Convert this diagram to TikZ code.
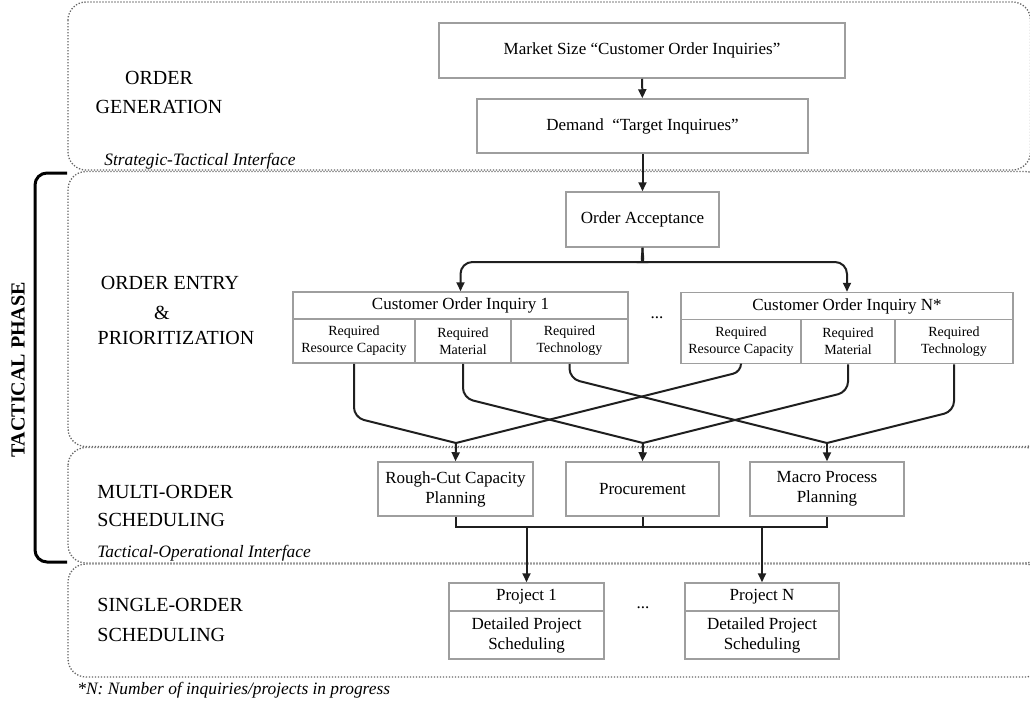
\documentclass[tikz,border=0pt]{standalone}
\usepackage{fontspec}
\setmainfont{Liberation Serif}
\usetikzlibrary{arrows.meta}
\tikzset{
  band/.style={draw=black!60, line width=0.65pt, dash pattern=on 0.65pt off 0.85pt, rounded corners=9pt},
  box/.style={draw=black!38, line width=0.75pt, inner sep=0pt, align=center, font=\fontsize{8.5}{10}\selectfont},
  cell/.style={box, font=\fontsize{7}{8.6}\selectfont},
  conn/.style={draw=black!88, line width=1pt},
  arr/.style={conn, -{Triangle[length=4.5pt,width=4pt]}},
  lab/.style={font=\fontsize{10}{12}\selectfont, inner sep=0pt},
  iface/.style={font=\fontsize{8.7}{10.5}\selectfont\itshape, inner sep=0pt, anchor=west},
  dots/.style={font=\fontsize{8.5}{10}\selectfont, inner sep=0pt},
}
\begin{document}
\begin{tikzpicture}[x=0.5pt,y=-0.5pt]
\useasboundingbox (0,0) rectangle (1030,702);

% bands
\draw[band] (68,2) rectangle (1030.5,170);
\draw[band] (68,171.5) rectangle (1043,446.5);
\draw[band] (68,447.5) rectangle (1043,563);
\draw[band] (68,564) rectangle (1043,677);

% tactical phase bracket
\draw[line width=1.5pt, rounded corners=6pt] (67,173) -- (35,173) -- (35,562) -- (67,562);
\node[lab, font=\fontsize{10}{12}\selectfont\bfseries, rotate=90] (tp) at (18,370) {TACTICAL PHASE};

% left labels
\node[lab] (og1) at (159,78) {ORDER};
\node[lab] (og2) at (159,107) {GENERATION};
\node[lab] (oe1) at (170,283) {ORDER ENTRY};
\node[lab] (oe2) at (162,313) {\&};
\node[lab] (oe3) at (176,338) {PRIORITIZATION};
\node[lab, anchor=west] (mo1) at (97,492) {MULTI-ORDER};
\node[lab, anchor=west] (mo2) at (97,520) {SCHEDULING};
\node[lab, anchor=west] (so1) at (97,605) {SINGLE-ORDER};
\node[lab, anchor=west] (so2) at (97,635) {SCHEDULING};
\node[iface] (sti) at (104,161) {Strategic-Tactical Interface};
\node[iface] (toi) at (97,553) {Tactical-Operational Interface};
\node[iface] (fn) at (77,690) {*N: Number of inquiries/projects in progress};

% top boxes
\node[box, minimum width=203pt, minimum height=27.5pt] (ms) at (642,50.5) {Market Size “Customer Order Inquiries”};
\node[box, minimum width=165.5pt, minimum height=27pt] (dm) at (642.5,126) {Demand~ “Target Inquirues”};
\node[box, minimum width=76.5pt, minimum height=27.5pt] (oa) at (642.5,219.5) {Order Acceptance};

% customer order inquiry 1
\node[box, minimum width=167.5pt, minimum height=13.5pt] (c1h) at (460.5,305.5) {Customer Order Inquiry 1};
\node[cell, minimum width=61pt, minimum height=22pt] (c1rc) at (354,341) {Required\\Resource Capacity};
\node[cell, minimum width=48pt, minimum height=22pt] (c1ma) at (463,341) {Required\\Material};
\node[cell, minimum width=58.5pt, minimum height=22pt] (c1te) at (569.5,341) {Required\\Technology};

\node[dots] (d1) at (657,318) {...};

% customer order inquiry N
\node[box, minimum width=166pt, minimum height=13.5pt] (cnh) at (847,306) {Customer Order Inquiry N*};
\node[cell, minimum width=60pt, minimum height=22pt] (cnrc) at (741,341.5) {Required\\Resource Capacity};
\node[cell, minimum width=47pt, minimum height=22pt] (cnma) at (848,341.5) {Required\\Material};
\node[cell, minimum width=59pt, minimum height=22pt] (cnte) at (954,341.5) {Required\\Technology};

% planning boxes
\node[box, minimum width=77.5pt, minimum height=27pt] (rc) at (455.5,489) {Rough-Cut Capacity\\Planning};
\node[box, minimum width=76.5pt, minimum height=27pt] (pr) at (642.5,489) {Procurement};
\node[box, minimum width=77pt, minimum height=27pt] (mp) at (827,489) {Macro Process\\Planning};

% projects
\node[box, minimum width=77.5pt, minimum height=14pt] (p1h) at (526.5,597) {Project 1};
\node[box, minimum width=77.5pt, minimum height=24pt] (p1b) at (526.5,635) {Detailed Project\\Scheduling};
\node[dots] (d2) at (643,608) {...};
\node[box, minimum width=77pt, minimum height=14pt] (pnh) at (762,597) {Project N};
\node[box, minimum width=77pt, minimum height=24pt] (pnb) at (762,635) {Detailed Project\\Scheduling};

% merge points
\coordinate (m1) at (456,443);
\coordinate (m2) at (643,443);
\coordinate (m3) at (827,443);

% connectors
\draw[arr] (ms) -- (dm);
\draw[arr] (dm) -- (oa);
\draw[arr, rounded corners=6pt] (oa.south) .. controls (642.5,257) and (640,262) .. (632,262) -- (c1h.north |- 0,262) -- (c1h.north);
\draw[arr, rounded corners=6pt] (oa.south) .. controls (642.5,257) and (645,262) .. (653,262) -- (cnh.north |- 0,262) -- (cnh.north);

\draw[conn, rounded corners=5pt] (c1rc.south) -- (c1rc.south |- 0,417.5) -- (m1);
\draw[conn, rounded corners=5pt] (c1ma.south) -- (c1ma.south |- 0,398) -- (m2);
\draw[conn, rounded corners=5pt] (c1te.south) -- (c1te.south |- 0,378.6) -- (m3);
\draw[conn, rounded corners=4pt] (cnrc.south) -- (cnrc.south |- 0,371.75) -- (m1);
\draw[conn, rounded corners=5pt] (cnma.south) -- (cnma.south |- 0,391.75) -- (m2);
\draw[conn, rounded corners=5pt] (cnte.south) -- (cnte.south |- 0,411.25) -- (m3);

\draw[arr] (m1) -- (rc.north);
\draw[arr] (m2) -- (pr.north);
\draw[arr] (m3) -- (mp.north);

\draw[conn] (rc.south) -- (rc.south |- 0,527) -- (mp.south |- 0,527) -- (mp.south);
\draw[conn] (pr.south) -- (pr.south |- 0,527);
\draw[arr] (p1h.north |- 0,527) -- (p1h.north);
\draw[arr] (pnh.north |- 0,527) -- (pnh.north);
\end{tikzpicture}
\end{document}
